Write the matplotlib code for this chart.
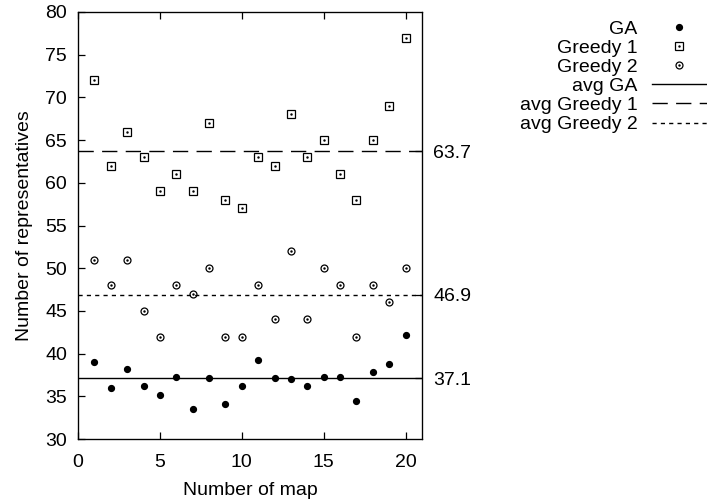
import matplotlib
matplotlib.use("Agg")
import matplotlib.pyplot as plt

# ----------------------------------------------------------------------
# data

maps = list(range(1, 21))

ga = [39, 36, 38.2, 36.2, 35.2, 37.3, 33.5, 37.1, 34.1, 36.2,
      39.2, 37.1, 37, 36.2, 37.3, 37.3, 34.5, 37.9, 38.75, 42.15]
greedy1 = [72, 62, 66, 63, 59, 61, 59, 67, 58, 57,
           63, 62, 68, 63, 65, 61, 58, 65, 69, 77]
greedy2 = [51, 48, 51, 45, 42, 48, 47, 50, 42, 42,
           48, 44, 52, 44, 50, 48, 42, 48, 46, 50]

avg_names = ["avg GA", "avg Greedy 1", "avg Greedy 2"]
avg_vals = [37.1, 63.7, 46.9]
avg_labels = ["37.1", "63.7", "46.9"]

# ----------------------------------------------------------------------

FS = 14
plt.rcParams['font.family'] = ['Liberation Sans', 'DejaVu Sans']
plt.rcParams['font.size'] = FS

fig = plt.figure(figsize=(7.07, 5.03), dpi=100)
ax = fig.add_axes([78/707, 1 - 439/503, (422 - 78)/707, (439 - 12)/503])

dot = dict(ls='none', marker='.', ms=1.5, color='black')

ga_h, = ax.plot(maps, ga, ls='none', marker='o', ms=4.2, color='black')
g1_h, = ax.plot(maps, greedy1, ls='none', marker='s', ms=5.2, mfc='none',
                mec='black', mew=0.9)
g1_d, = ax.plot(maps, greedy1, **dot)
g2_h, = ax.plot(maps, greedy2, ls='none', marker='o', ms=5.0, mfc='none',
                mec='black', mew=0.9)
g2_d, = ax.plot(maps, greedy2, **dot)

styles = ['-', (0, (11, 6)), (0, (3, 3))]
avg_h = []
for v, st in zip(avg_vals, styles):
    ln = ax.axhline(v, color='black', lw=1, ls=st)
    avg_h.append(ln)

ax.set_xlim(0, 21)
ax.set_ylim(30, 80)
ax.set_xticks([0, 5, 10, 15, 20])
ax.set_yticks(range(30, 81, 5))
ax.tick_params(direction='in', length=5, width=0.9, pad=8, top=True,
               right=False, labelsize=FS)
ax.tick_params(axis='x', pad=11)
for s in ax.spines.values():
    s.set_linewidth(0.9)

ax2 = ax.twinx()
ax2.set_ylim(30, 80)
ax2.set_yticks(avg_vals, avg_labels)
ax2.tick_params(direction='in', length=5, width=0.9, pad=8, labelsize=FS)

ax.set_xlabel("Number of map", labelpad=8)
ax.set_ylabel("Number of representatives", labelpad=9)

handles = [ga_h, (g1_h, g1_d), (g2_h, g2_d)] + avg_h
labels = ["GA", "Greedy 1", "Greedy 2"] + avg_names
ax.legend(handles, labels, loc='upper right',
          bbox_to_anchor=(1.0, 1 - 20/503), bbox_transform=fig.transFigure,
          frameon=False, markerfirst=False, handlelength=2.85,
          handletextpad=0.72, labelspacing=0.08, borderpad=0,
          borderaxespad=0, fontsize=FS)

fig.savefig("out.png", dpi=100)
